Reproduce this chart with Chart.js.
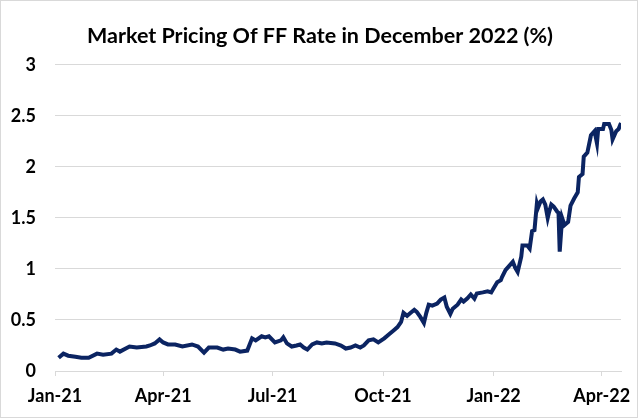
<!DOCTYPE html>
<html>
<head>
<meta charset="utf-8">
<script src="https://cdn.jsdelivr.net/npm/chart.js@4"></script>
<style>
    html, body { margin: 0; padding: 0; background: #fff; }
    #wrap { width: 640px; height: 419px; position: relative; }
</style>
</head>
<body>
<div id="wrap"><canvas id="ffChart"></canvas></div>
<script>
// days since 1 Jan 2021
const days = [3, 7, 11, 17, 22, 28, 35, 40, 47, 51, 54, 62, 68, 76, 79, 83, 87, 90, 94,
    96, 100, 106, 114, 119, 124, 128, 135, 140, 144, 150, 154, 160, 164, 167, 172, 175, 178,
    183, 188, 190, 193, 197, 201, 204, 207, 210, 214, 218, 222, 226, 233, 238, 242, 246, 250,
    254, 257, 261, 265, 269, 274, 278, 282, 285, 288, 290, 293, 296, 299, 301, 304, 307, 309,
    311, 314, 318, 321, 324, 326, 329, 331, 335, 338, 340, 343, 346, 349, 351, 356, 360, 363,
    365, 368, 371, 372, 375, 378, 381, 383, 385, 388, 389, 393, 395, 397, 399, 401, 402, 404,
    406, 408, 410, 411, 413, 415, 418, 419, 420, 422, 424, 427, 429, 432, 435, 436, 439, 440,
    443, 446, 449, 451, 452, 456, 457, 461, 463, 464, 467, 469, 471];

const rates = [0.13, 0.17, 0.15, 0.14, 0.13, 0.13, 0.17, 0.16, 0.17, 0.21, 0.19, 0.24, 0.23, 0.24, 0.25, 0.27, 0.31, 0.28, 0.26,
    0.26, 0.26, 0.24, 0.26, 0.24, 0.18, 0.23, 0.23, 0.21, 0.22, 0.21, 0.19, 0.2, 0.32, 0.3, 0.34, 0.33, 0.34,
    0.28, 0.3, 0.33, 0.27, 0.24, 0.25, 0.26, 0.23, 0.21, 0.26, 0.28, 0.27, 0.28, 0.27, 0.25, 0.22, 0.23, 0.25,
    0.23, 0.25, 0.3, 0.31, 0.28, 0.32, 0.36, 0.4, 0.43, 0.48, 0.57, 0.54, 0.57, 0.6, 0.58, 0.53, 0.47, 0.57,
    0.65, 0.64, 0.66, 0.7, 0.72, 0.63, 0.56, 0.61, 0.65, 0.7, 0.68, 0.71, 0.75, 0.71, 0.76, 0.77, 0.78, 0.77,
    0.81, 0.87, 0.89, 0.92, 0.99, 1.03, 1.07, 1.01, 0.97, 1.12, 1.23, 1.23, 1.2, 1.37, 1.38, 1.64, 1.6, 1.66,
    1.68, 1.63, 1.5, 1.55, 1.63, 1.61, 1.56, 1.55, 1.17, 1.5, 1.43, 1.46, 1.62, 1.69, 1.75, 1.9, 1.93, 2.1,
    2.14, 2.31, 2.35, 2.23, 2.37, 2.37, 2.42, 2.42, 2.36, 2.27, 2.35, 2.37, 2.43];

const tickDays = [0, 90, 181, 273, 365, 455];
const tickLabels = ['Jan-21', 'Apr-21', 'Jul-21', 'Oct-21', 'Jan-22', 'Apr-22'];

const points = days.map((d, i) => ({ x: d, y: rates[i] }));

const labelFont = { family: 'Lato', size: 18, weight: 'bold' };

const frame = {
    id: 'frame',
    beforeDraw(chart) {
        const ctx = chart.ctx;
        ctx.save();
        ctx.fillStyle = '#fff';
        ctx.fillRect(0, 0, chart.width, chart.height);
        ctx.strokeStyle = '#d9d9d9';
        ctx.lineWidth = 1;
        ctx.strokeRect(0.5, 0.5, 637, 417);
        ctx.restore();
    }
};

new Chart(document.getElementById('ffChart'), {
    type: 'line',
    data: {
        datasets: [{
            data: points,
            borderColor: '#0b2462',
            borderWidth: 4,
            pointRadius: 0,
            tension: 0,
            fill: false
        }]
    },
    options: {
        responsive: true,
        maintainAspectRatio: false,
        animation: false,
        layout: { padding: 0 },
        plugins: {
            legend: { display: false },
            tooltip: { enabled: false },
            title: {
                display: true,
                text: 'Market Pricing Of FF Rate in December 2022 (%)',
                color: '#000',
                font: { family: 'Lato', size: 21.5, weight: 'bold' },
                padding: { top: 23, bottom: 16 }
            }
        },
        scales: {
            x: {
                type: 'linear',
                min: 0,
                max: 471,
                afterBuildTicks: axis => {
                    axis.ticks = tickDays.map(v => ({ value: v }));
                },
                afterFit: axis => { axis.height = 48; },
                ticks: {
                    autoSkip: false,
                    maxRotation: 0,
                    padding: 9,
                    color: '#000',
                    font: labelFont,
                    callback: (value, index) => tickLabels[index]
                },
                grid: {
                    drawOnChartArea: false,
                    drawTicks: true,
                    tickLength: 5,
                    color: '#d9d9d9'
                },
                border: { display: true, color: '#d9d9d9' }
            },
            y: {
                min: 0,
                max: 3,
                afterFit: axis => { axis.width = 55; },
                ticks: {
                    stepSize: 0.5,
                    padding: 19,
                    color: '#000',
                    font: labelFont,
                    callback: v => String(Number(v.toFixed(1)))
                },
                grid: {
                    color: '#d9d9d9',
                    drawTicks: false
                },
                border: { display: false }
            },
            // empty right-hand margin so the title stays centred on the page
            yRight: {
                position: 'right',
                min: 0,
                max: 3,
                afterFit: axis => { axis.width = 19; },
                ticks: { display: false },
                grid: { display: false },
                border: { display: false }
            }
        }
    },
    plugins: [frame]
});
</script>
</body>
</html>
